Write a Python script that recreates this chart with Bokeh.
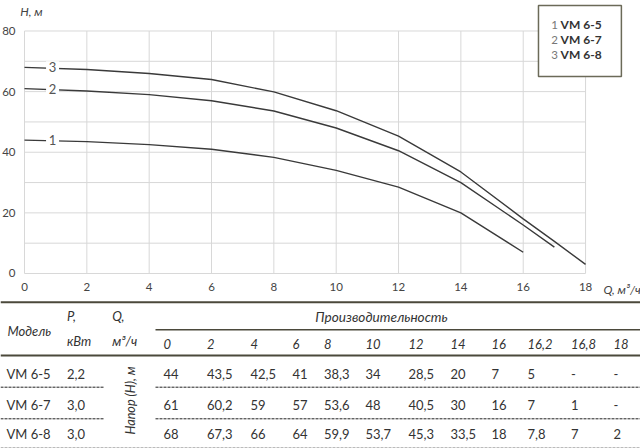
from bokeh.core.properties import value
from bokeh.embed import file_html
from bokeh.layouts import column
from bokeh.models import FixedTicker, Range1d
from bokeh.plotting import figure
from bokeh.resources import INLINE

FONT = "Lato"
INK = "#333333"
RULE = "#4b493b"

# head curves (Q in m3/h, H in m)
q_vm65 = [0, 2, 4, 6, 8, 10, 12, 14, 16]
h_vm65 = [44, 43.5, 42.5, 41, 38.3, 34, 28.5, 20, 7]
q_vm67 = [0, 2, 4, 6, 8, 10, 12, 14, 16, 17]
h_vm67 = [61, 60.2, 59, 57, 53.6, 48, 40.5, 30, 16, 8.7]
q_vm68 = [0, 2, 4, 6, 8, 10, 12, 14, 16, 17, 18]
h_vm68 = [68, 67.3, 66, 64, 59.9, 53.7, 45.3, 33.5, 18, 10.6, 3]

q_ticks = [0, 2, 4, 6, 8, 10, 12, 14, 16, 18]
h_ticks = [0, 20, 40, 60, 80]
h_grid = [0, 10, 20, 30, 40, 50, 60, 70, 80]

# table below the chart
models = ["VM 6-5", "VM 6-7", "VM 6-8"]
power = ["2,2", "3,0", "3,0"]
flow_cols = ["0", "2", "4", "6", "8", "10", "12", "14", "16", "16,2", "16,8", "18"]
head_vm65 = ["44", "43,5", "42,5", "41", "38,3", "34", "28,5", "20", "7", "5", "-", "-"]
head_vm67 = ["61", "60,2", "59", "57", "53,6", "48", "40,5", "30", "16", "7", "1", "-"]
head_vm68 = ["68", "67,3", "66", "64", "59,9", "53,7", "45,3", "33,5", "18", "7,8", "7", "2"]

W = 640

# ---- chart: frame fills the whole canvas, axes pinned at Q=0 / H=0 ----
p = figure(width=W, height=300, x_range=Range1d(-0.770, 19.763), y_range=Range1d(-8.91, 90.06),
           output_backend="svg", toolbar_location=None, min_border=0)
p.outline_line_color = None
p.grid.visible = False

p.xaxis.ticker = FixedTicker(ticks=q_ticks)
p.yaxis.ticker = FixedTicker(ticks=h_ticks)
p.xaxis.fixed_location = 0
p.yaxis.fixed_location = 0
for ax in (p.xaxis[0], p.yaxis[0]):
    ax.axis_line_color = None
    ax.major_tick_line_color = None
    ax.minor_tick_line_color = None
    ax.major_tick_out = 0
    ax.major_tick_in = 0
    ax.major_label_text_font = FONT
    ax.major_label_text_font_size = "11.5px"
    ax.major_label_text_color = "#444444"
p.xaxis.major_label_standoff = 10
p.yaxis.major_label_standoff = 9

# grid, only over the 0..18 x 0..80 field
grid_col = "#d8d8d8"
p.segment(x0=q_ticks, y0=[0] * len(q_ticks), x1=q_ticks, y1=[80] * len(q_ticks),
          line_color=grid_col, line_width=1)
p.segment(x0=[0] * len(h_grid), y0=h_grid, x1=[18] * len(h_grid), y1=h_grid,
          line_color=grid_col, line_width=1)

curves = [(q_vm65, h_vm65), (q_vm67, h_vm67), (q_vm68, h_vm68)]
for q, h in curves:
    p.line(q, h, line_color="#3a3a3a", line_width=1.4)

# curve numbers sitting on the lines near Q=0
starts = [h[0] for q, h in curves]
p.rect(x=[0.9] * 3, y=starts, width=13, height=12, width_units="screen",
       height_units="screen", fill_color="white", line_color=None)
p.text(x=[0.9] * 3, y=starts, text=["1", "2", "3"], text_align="center",
       text_baseline="middle", text_font=value(FONT), text_font_size="13px",
       text_color="#555555")

lbl = dict(text_font=value(FONT), text_font_size="12px", text_font_style="italic",
           text_color="#444444", text_baseline="middle")
p.text(x=[0.225], y=[86.4], text=["H, м"], text_align="center", **lbl)
p.text(x=[18.575], y=[-5.3], text=["Q, м³/ч"], text_align="left", **lbl)

# legend box
p.quad(left=[16.49], right=[19.15], top=[88.4], bottom=[65.0], fill_color="white",
       line_color="#6b6a58", line_width=1.5)
leg_y = [82.1, 77.1, 72.15]
p.text(x=[16.9] * 3, y=leg_y, text=["1", "2", "3"], text_font=value(FONT),
       text_font_size="11.5px", text_color="#777777", text_baseline="middle")
p.text(x=[17.2] * 3, y=leg_y, text=models, text_font=value(FONT), text_font_size="12px",
       text_font_style="bold", text_color=INK, text_baseline="middle")

# ---- table ----
TH = 148
t = figure(width=W, height=TH, x_range=Range1d(0, W), y_range=Range1d(0, TH),
           x_axis_type=None, y_axis_type=None, output_backend="svg",
           toolbar_location=None, min_border=0)
t.outline_line_color = None


def Y(top):
    return TH - top


col_x = [163, 206.5, 250, 292, 323.5, 365, 408, 450, 491, 527, 570.5, 613]
row_y = [Y(73.3), Y(104), Y(133)]

# rules
t.segment(x0=[0, 0], y0=[Y(1.7), Y(55)], x1=[W, W], y1=[Y(1.7), Y(55)],
          line_color=RULE, line_width=2)
t.segment(x0=[155], y0=[Y(29.3)], x1=[W], y1=[Y(29.3)], line_color=RULE, line_width=1.5)
t.segment(x0=[0, 155, 0, 155], y0=[Y(86.7), Y(86.7), Y(118.3), Y(118.3)],
          x1=[104, W, 104, W], y1=[Y(86.7), Y(86.7), Y(118.3), Y(118.3)],
          line_color="#222222", line_width=1, line_dash="3 1")
t.segment(x0=[0], y0=[Y(147)], x1=[W], y1=[Y(147)], line_color="#bbbbbb",
          line_width=1, line_dash="3 1")

ital = dict(text_font=value(FONT), text_font_style="italic", text_color=INK,
            text_baseline="middle")
plain = dict(text_font=value(FONT), text_font_size="13px", text_color=INK,
             text_baseline="middle")

t.text(x=[7], y=[Y(30)], text=["Модель"], text_font_size="13px", **ital)
t.text(x=[66.5, 66.5, 111.7, 111.7], y=[Y(15), Y(40), Y(15), Y(40)],
       text=["P,", "кВт", "Q,", "м³/ч"], text_font_size="13px", **ital)
t.text(x=[381], y=[Y(16)], text=["Производительность"], text_align="center",
       text_font_size="13.6px", **ital)
t.text(x=col_x, y=[Y(43)] * len(flow_cols), text=flow_cols, text_font_size="13px", **ital)
t.text(x=[130], y=[Y(100)], text=["Напор (H), м"], angle=1.5708,
       text_align="center", text_font_size="12.6px", **ital)

t.text(x=[6] * 3, y=row_y, text=models, **plain)
t.text(x=[66.5] * 3, y=row_y, text=power, **plain)
for ry, row in zip(row_y, [head_vm65, head_vm67, head_vm68]):
    t.text(x=col_x, y=[ry] * len(row), text=row, **plain)

layout = column(p, t, spacing=0)
open("out.html", "w").write(file_html(layout, INLINE))
